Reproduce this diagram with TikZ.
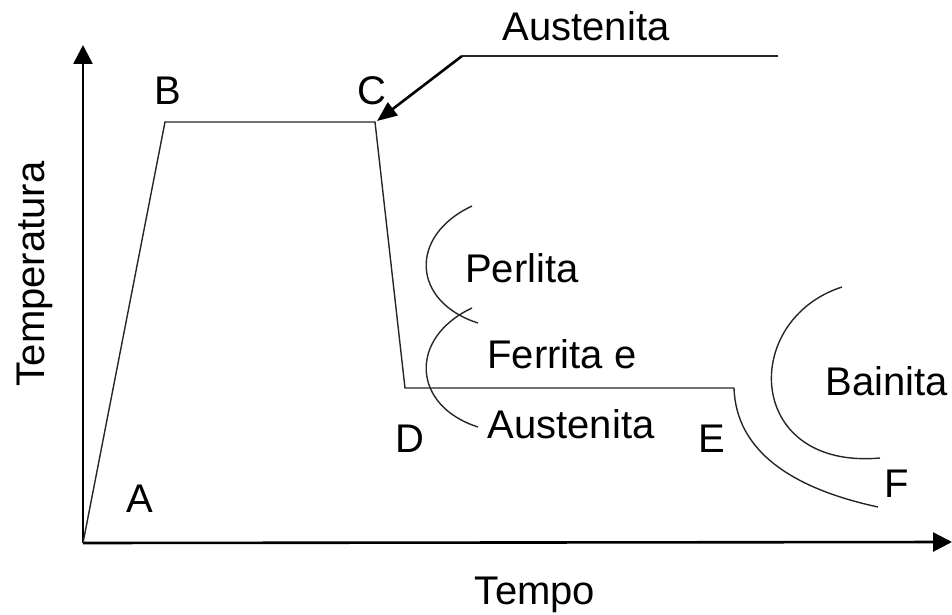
\documentclass[tikz,border=0pt]{standalone}
\usepackage{fontspec}
\setmainfont{Liberation Sans}
\usetikzlibrary{arrows.meta}
\begin{document}
\begin{tikzpicture}[x=1pt,y=-1pt,
  lbl/.style={inner sep=0pt,anchor=base,font=\fontsize{40}{45}\selectfont},
  thin/.style={line width=1.4pt,draw=black!85},
  axis/.style={line width=2.6pt,-{Triangle[length=19pt,width=19pt]}},
  pointer/.style={line width=2.6pt,-{Triangle[length=20pt,width=16pt]}}]
\useasboundingbox (0,0) rectangle (952,615);
\coordinate (O) at (83,543);
\coordinate (Ytip) at (83,45);
\coordinate (Xtip) at (952,542);
\coordinate (B) at (165,122);
\coordinate (C) at (375,122);
\coordinate (D) at (405,388);
\coordinate (E) at (734,388);
\coordinate (F) at (878,507);
\coordinate (P1) at (778,56);
\coordinate (P2) at (462,56);
\coordinate (Ctip) at (377,121);
% axes
\draw[axis] (O) -- (Ytip);
\draw[axis] (O) -- (Xtip);
% temperature path
\draw[thin] (O) -- (B) -- (C) -- (D) -- (E);
\draw[thin] (E) .. controls (736,450) and (790,488) .. (F);
% arrow from Austenita
\draw[thin] (P1) -- (P2);
\draw[pointer] (P2) -- (Ctip);
% Perlita curves
\draw[thin] (472,206) .. controls (408,236) and (412,302) .. (478,323);
\draw[thin] (472,308) .. controls (408,338) and (412,406) .. (478,427);
% Bainita curve
\draw[thin] (842,287) .. controls (740,320) and (745,470) .. (880,458);
% labels
\node[lbl] (tA) at (140,512) {A};
\node[lbl] (tB) at (168,105) {B};
\node[lbl] (tC) at (372,105) {C};
\node[lbl] (tD) at (410,452) {D};
\node[lbl] (tE) at (712,452) {E};
\node[lbl] (tF) at (897,497) {F};
\node[lbl] (aus1) at (586,41) {Austenita};
\node[lbl] (per) at (522,282) {Perlita};
\node[lbl] (fer) at (562,368) {Ferrita e};
\node[lbl] (aus2) at (571,438) {Austenita};
\node[lbl] (bai) at (887,395) {Bainita};
\node[lbl] (tempo) at (535,604) {Tempo};
\node[lbl,rotate=90] (temp) at (44,274) {Temperatura};
\end{tikzpicture}
\end{document}
